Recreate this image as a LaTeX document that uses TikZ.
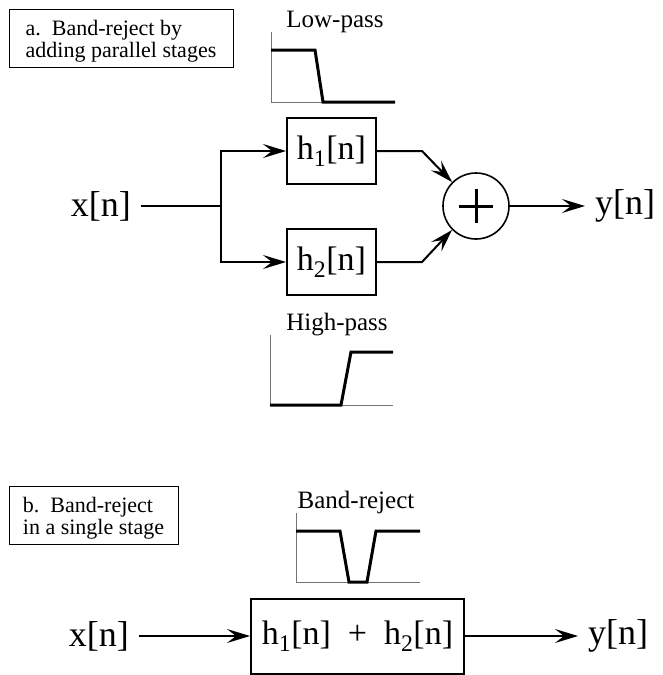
\documentclass[tikz,border=0pt]{standalone}
\usepackage{fontspec}
\setmainfont{Liberation Serif}
\usetikzlibrary{arrows.meta}

\begin{document}
\begin{tikzpicture}
  [x=1pt,y=-1pt,every node/.style={inner sep=0pt},
   sig/.style={font=\fontsize{36}{38}\selectfont,inner xsep=10pt},
   filt/.style={draw,line width=2pt,minimum width=89pt,minimum height=66pt,font=\fontsize{34}{36}\selectfont},
   capbox/.style={draw,line width=0.9pt,minimum height=58pt,align=left,font=\fontsize{22}{22}\selectfont},
   resp/.style={font=\fontsize{25}{25}\selectfont,anchor=base},
   axis/.style={black!55,line width=1pt},
   curve/.style={line width=3pt},
   wire/.style={line width=2pt},
   flow/.style={line width=2pt,-{Stealth[length=23pt,width=14pt,inset=9pt]}}]
  \useasboundingbox (0,0) rectangle (663,675);

  % a. parallel stages
  \node [capbox,minimum width=224pt] (capa) at (121,38) {\rule{0pt}{21pt}a.\ \ Band-reject by\\adding parallel stages};
  \node [sig,anchor=east] (x1) at (141,206) {x[n]};
  \coordinate (split) at (221,206);
  \node [filt] (h1) at (331.5,151) {h\textsubscript{1}[n]};
  \node [filt] (h2) at (331.5,262) {h\textsubscript{2}[n]};
  \node [circle,draw,line width=1.6pt,minimum size=66pt] (add) at (476,206) {};
  \draw [line width=3pt] ([xshift=-17pt]add.center) -- ([xshift=17pt]add.center)
                         ([yshift=-17pt]add.center) -- ([yshift=17pt]add.center);
  \node [sig,anchor=west] (y1) at (585,206) {y[n]};

  \draw [wire] (x1.east) -- (split);
  \foreach \f in {h1,h2}
    \draw [flow] (split) |- (\f.west);
  \draw [flow] (h1.east) -- ++(45,0) -- (add.135);
  \draw [flow] (h2.east) -- ++(45,0) -- (add.225);
  \draw [flow] (add.east) -- (y1.west);

  % responses
  \node [resp] (lp) at (335,27) {Low-pass};
  \draw [axis] (271,32) -- (271,102) -- (395,102);
  \draw [curve] (271,50) -- (315,50) -- (323,102) -- (395,102);

  \node [resp] (hp) at (337,330) {High-pass};
  \draw [axis] (270,335) -- (270,405) -- (393,405);
  \draw [curve] (270,405) -- (341,405) -- (351,352) -- (393,352);

  % b. single stage
  \node [capbox,minimum width=169pt] (capb) at (93.5,515) {\rule{0pt}{21pt}b.\ \ Band-reject\\in a single stage};
  \node [resp] (br) at (356,508) {Band-reject};
  \draw [axis] (296,513) -- (296,582) -- (420,582);
  \draw [curve] (296,531) -- (340,531) -- (349,582) -- (367,582) -- (376,531) -- (420,531);

  \node [sig,anchor=east] (x2) at (139,636) {x[n]};
  \node [filt,minimum width=213pt,minimum height=75pt] (hs) at (357.5,636) {h\textsubscript{1}[n] \ + \ h\textsubscript{2}[n]};
  \node [sig,anchor=west] (y2) at (578,636) {y[n]};
  \draw [flow] (x2.east) -- (hs.west);
  \draw [flow] (hs.east) -- (y2.west);

\end{tikzpicture}
\end{document}
